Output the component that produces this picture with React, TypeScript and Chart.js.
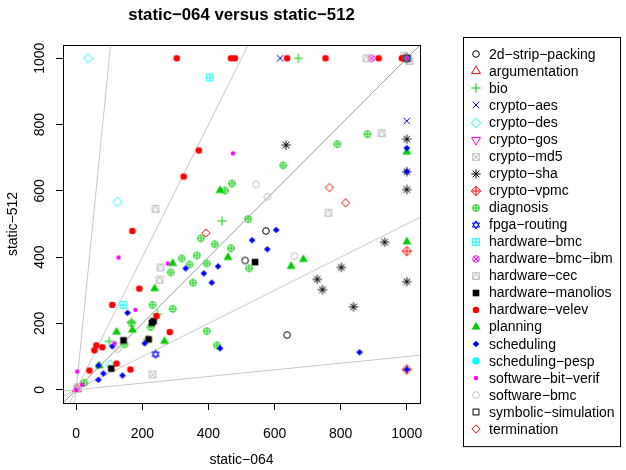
import { useEffect, useRef } from 'react';
import { Chart, registerables } from 'chart.js';

Chart.register(...registerables);

// ---------- tick labels / axes ----------
const xTicks = [0, 200, 400, 600, 800, 1000];
const yTicks = [0, 200, 400, 600, 800, 1000];
const refSlopes = [10, 2, 0.5, 0.1];
const diagSlope = 1;

// ---------- series values (static-064 = x, static-512 = y) ----------
const stripPackingX = [574, 511, 638];
const stripPackingY = [479, 390, 165];
const argumentationX = [1000, 2];
const argumentationY = [1000, 2];
const bioX = [672, 441, 100, 167, 245, 216];
const bioY = [1000, 509, 146, 204, 228, 152];
const cryptoAesX = [617, 1000];
const cryptoAesY = [1000, 811];
const cryptoDesX = [36, 125, 103];
const cryptoDesY = [1000, 567, 76];
const cryptoGosX = [1000];
const cryptoGosY = [1000];
const cryptoMd5X = [231, 1000, 2];
const cryptoMd5Y = [46, 1000, 2];
const cryptoShaX = [635, 1000, 1000, 1000, 1000, 933, 802, 729, 745, 839];
const cryptoShaY = [738, 756, 658, 604, 326, 445, 369, 333, 302, 250];
const cryptoVpmcX = [1000, 1000, 1000];
const cryptoVpmcY = [418, 61, 1000];
const diagnosisX = [881, 790, 626, 471, 520, 450, 377, 419, 468, 319, 365, 343, 395, 523, 286, 353, 231, 292, 167, 225, 395, 426, 146, 24];
const diagnosisY = [771, 741, 677, 622, 515, 601, 457, 439, 427, 396, 405, 378, 381, 366, 354, 323, 256, 244, 201, 189, 177, 134, 137, 21];
const fpgaRoutingX = [240, 1000];
const fpgaRoutingY = [107, 1000];
const hardwareBmcX = [404, 143];
const hardwareBmcY = [942, 256];
const hardwareBmcIbmX = [893, 1000];
const hardwareBmcIbmY = [1000, 1000];
const hardwareCecX = [240, 878, 924, 763, 255, 252, 992, 1008, 5];
const hardwareCecY = [546, 1000, 774, 534, 369, 332, 1008, 992, 8];
const hardwareManoliosX = [229, 234, 143, 219, 106, 541];
const hardwareManoliosY = [202, 207, 149, 152, 64, 385];
const hardwareVelevX = [304, 468, 480, 638, 754, 915, 985, 1000, 371, 325, 170, 191, 109, 243, 283, 61, 55, 79, 122, 164, 40];
const hardwareVelevY = [1000, 1000, 1000, 1000, 1000, 1000, 1000, 1000, 722, 643, 479, 305, 256, 222, 174, 134, 119, 128, 79, 61, 58];
const planningX = [435, 459, 650, 687, 1000, 292, 237, 122, 170, 267, 1000, 70];
const planningY = [601, 399, 372, 393, 446, 381, 305, 174, 180, 146, 717, 72];
const schedulingX = [605, 532, 578, 857, 1000, 429, 331, 386, 410, 155, 435, 207, 109, 67, 82, 67, 140, 1000, 1000];
const schedulingY = [482, 451, 424, 113, 61, 372, 366, 351, 323, 232, 125, 140, 131, 73, 49, 30, 43, 658, 729];
const schedulingPespX = [1000];
const schedulingPespY = [1000];
const softwareBitVerifX = [474, 128, 179, 277, 116, 3, 18, 0, 1000];
const softwareBitVerifY = [713, 399, 241, 381, 140, 55, 15, 0, 1000];
const softwareBmcX = [544, 578, 660, 125, 1000];
const softwareBmcY = [619, 582, 403, 122, 1000];
const symbolicSimulationX = [1000];
const symbolicSimulationY = [1000];
const terminationX = [766, 815, 392];
const terminationY = [610, 564, 473];

const seriesNames = [
  '2d\u2212strip\u2212packing', 'argumentation', 'bio', 'crypto\u2212aes', 'crypto\u2212des',
  'crypto\u2212gos', 'crypto\u2212md5', 'crypto\u2212sha', 'crypto\u2212vpmc', 'diagnosis',
  'fpga\u2212routing', 'hardware\u2212bmc', 'hardware\u2212bmc\u2212ibm', 'hardware\u2212cec',
  'hardware\u2212manolios', 'hardware\u2212velev', 'planning', 'scheduling', 'scheduling\u2212pesp',
  'software\u2212bit\u2212verif', 'software\u2212bmc', 'symbolic\u2212simulation', 'termination',
];
const seriesX = [stripPackingX, argumentationX, bioX, cryptoAesX, cryptoDesX, cryptoGosX, cryptoMd5X, cryptoShaX, cryptoVpmcX, diagnosisX, fpgaRoutingX, hardwareBmcX, hardwareBmcIbmX, hardwareCecX, hardwareManoliosX, hardwareVelevX, planningX, schedulingX, schedulingPespX, softwareBitVerifX, softwareBmcX, symbolicSimulationX, terminationX];
const seriesY = [stripPackingY, argumentationY, bioY, cryptoAesY, cryptoDesY, cryptoGosY, cryptoMd5Y, cryptoShaY, cryptoVpmcY, diagnosisY, fpgaRoutingY, hardwareBmcY, hardwareBmcIbmY, hardwareCecY, hardwareManoliosY, hardwareVelevY, planningY, schedulingY, schedulingPespY, softwareBitVerifY, softwareBmcY, symbolicSimulationY, terminationY];

const palette = ['#000000', '#FF0000', '#00CD00', '#0000FF', '#00FFFF', '#FF00FF', '#BEBEBE'];
const FONT = '"Liberation Sans", Arial, Helvetica, sans-serif';

function makeSymbol(pch: number, color: string): HTMLCanvasElement {
  const S = 18;
  const c = document.createElement('canvas');
  c.width = S;
  c.height = S;
  const g = c.getContext('2d') as CanvasRenderingContext2D;
  const cx = S / 2;
  const cy = S / 2;
  const R = 3.3;
  g.strokeStyle = color;
  g.fillStyle = color;
  g.lineWidth = 1;
  const circle = (r: number, fill: boolean) => {
    g.beginPath();
    g.arc(cx, cy, r, 0, Math.PI * 2);
    if (fill) g.fill(); else g.stroke();
  };
  const line = (x1: number, y1: number, x2: number, y2: number) => {
    g.beginPath();
    g.moveTo(cx + x1, cy + y1);
    g.lineTo(cx + x2, cy + y2);
    g.stroke();
  };
  const poly = (pts: number[][], fill: boolean) => {
    g.beginPath();
    pts.forEach((p, i) => (i === 0 ? g.moveTo(cx + p[0], cy + p[1]) : g.lineTo(cx + p[0], cy + p[1])));
    g.closePath();
    if (fill) g.fill(); else g.stroke();
  };
  const T0 = Math.sqrt((4 * Math.PI) / (3 * Math.sqrt(3))) * R;
  const T1 = (T0 * Math.sqrt(3)) / 2;
  const T2 = T0 / 2;
  const tri = (fill: boolean, inv: boolean) => {
    const s = inv ? -1 : 1;
    poly([[0, -T0 * s], [T1, T2 * s], [-T1, T2 * s]], fill);
  };
  const sq = (h: number) => g.strokeRect(cx - h, cy - h, 2 * h, 2 * h);
  const s2 = Math.SQRT2 * R;
  switch (pch) {
    case 1: circle(R, false); break;
    case 2: tri(false, false); break;
    case 3: line(-s2, 0, s2, 0); line(0, -s2, 0, s2); break;
    case 4: line(-R, -R, R, R); line(-R, R, R, -R); break;
    case 5: poly([[0, -s2], [s2, 0], [0, s2], [-s2, 0]], false); break;
    case 6: tri(false, true); break;
    case 7: sq(R); line(-R, -R, R, R); line(-R, R, R, -R); break;
    case 8: line(-R, -R, R, R); line(-R, R, R, -R); line(-s2, 0, s2, 0); line(0, -s2, 0, s2); break;
    case 9: poly([[0, -s2], [s2, 0], [0, s2], [-s2, 0]], false); line(-s2, 0, s2, 0); line(0, -s2, 0, s2); break;
    case 10: circle(R, false); line(-R, 0, R, 0); line(0, -R, 0, R); break;
    case 11: {
      const r = R * 1.25;
      poly([[0, -r], [r * 0.866, r * 0.5], [-r * 0.866, r * 0.5]], false);
      poly([[0, r], [r * 0.866, -r * 0.5], [-r * 0.866, -r * 0.5]], false);
      break;
    }
    case 12: sq(R); line(-R, 0, R, 0); line(0, -R, 0, R); break;
    case 13: { const d = R / Math.SQRT2; circle(R, false); line(-d, -d, d, d); line(-d, d, d, -d); break; }
    case 14: sq(R); poly([[0, -R], [R, R], [-R, R]], false); break;
    case 15: g.fillRect(cx - R, cy - R, 2 * R, 2 * R); break;
    case 16: circle(R, true); break;
    case 17: tri(true, false); break;
    case 18: poly([[0, -R], [R, 0], [0, R], [-R, 0]], true); break;
    case 19: circle(R, true); circle(R, false); break;
    case 20: circle((R * 2) / 3, true); break;
    case 21: circle(R, false); break;
    case 22: sq(R * Math.sqrt(Math.PI / 4)); break;
    case 23: { const d = R * Math.sqrt(Math.PI / 4) * Math.SQRT2; poly([[0, -d], [d, 0], [0, d], [-d, 0]], false); break; }
    default: circle(R, false);
  }
  return c;
}

export default function App() {
  const ref = useRef<HTMLCanvasElement | null>(null);

  useEffect(() => {
    const canvas = ref.current;
    if (!canvas) return;
    const symbols = seriesNames.map((_, i) => makeSymbol(i + 1, palette[i % 7]));
    const n = seriesNames.length;

    const pointSets: any[] = seriesNames.map((name, i) => ({
      type: 'scatter',
      label: name,
      data: seriesX[i].map((x, k) => ({ x, y: seriesY[i][k] })),
      pointStyle: symbols[i],
      pointRadius: 4,
      showLine: false,
      order: n - 1 - i,
    }));

    const lineSets: any[] = [...refSlopes, diagSlope].map((s) => ({
      type: 'scatter',
      label: 'ref' + s,
      data: [{ x: -100, y: -100 * s }, { x: 1100, y: 1100 * s }],
      showLine: true,
      pointRadius: 0,
      borderColor: s === diagSlope ? '#9a9a9a' : '#c8c8c8',
      borderWidth: 1,
      order: 100,
    }));

    const decor = {
      id: 'decor',
      afterDraw(chart: any) {
        const { ctx, chartArea: a, scales } = chart;
        ctx.save();
        // plot box
        ctx.strokeStyle = '#000';
        ctx.lineWidth = 1;
        ctx.strokeRect(Math.floor(a.left) + 0.5, Math.floor(a.top) + 0.5, Math.round(a.right - a.left), Math.round(a.bottom - a.top));
        // y tick labels (rotated, R style)
        ctx.fillStyle = '#000';
        ctx.font = '14px ' + FONT;
        ctx.textAlign = 'center';
        ctx.textBaseline = 'middle';
        for (const v of yTicks) {
          const py = scales.y.getPixelForValue(v);
          ctx.save();
          ctx.translate(40, py);
          ctx.rotate(-Math.PI / 2);
          ctx.fillText(String(v), 0, 0);
          ctx.restore();
        }
        // title
        ctx.font = 'bold 16.8px ' + FONT;
        ctx.fillText('static\u2212064 versus static\u2212512', (a.left + a.right) / 2, 15);
        // legend
        const lx = 463.5;
        const ly = 37.5;
        const step = 17.05;
        ctx.strokeRect(lx, ly, 157, 17 + step * (n - 1) + 17);
        ctx.font = '14px ' + FONT;
        ctx.textAlign = 'left';
        seriesNames.forEach((name, i) => {
          const y = 54.3 + i * step;
          const img = symbols[i];
          ctx.drawImage(img, 476 - img.width / 2, Math.round(y) - img.height / 2);
          ctx.fillText(name, 489, y + 0.5);
        });
        ctx.restore();
      },
    };

    const chart = new Chart(canvas, {
      type: 'scatter',
      data: { datasets: [...pointSets, ...lineSets] },
      options: {
        responsive: false,
        animation: false,
        events: [],
        devicePixelRatio: 1,
        layout: { padding: { left: 0, right: 206, top: 45, bottom: 0 } },
        plugins: { legend: { display: false }, tooltip: { enabled: false }, title: { display: false } },
        scales: {
          x: {
            type: 'linear',
            min: -40,
            max: 1040,
            afterBuildTicks: (s: any) => { s.ticks = xTicks.map((v) => ({ value: v })); },
            afterFit: (s: any) => { s.height = 67; },
            grid: { display: true, drawOnChartArea: false, drawTicks: true, tickLength: 7, color: '#000', lineWidth: 1 },
            border: { display: true, color: '#000', width: 1 },
            ticks: { color: '#000', font: { family: FONT, size: 14 }, padding: 16, maxRotation: 0, autoSkip: false, callback: (v: any) => String(v) },
            title: { display: true, text: 'static\u2212064', color: '#000', font: { family: FONT, size: 14 }, padding: { top: 0, bottom: 1.6 } },
          },
          y: {
            type: 'linear',
            min: -40,
            max: 1040,
            afterBuildTicks: (s: any) => { s.ticks = yTicks.map((v) => ({ value: v })); },
            afterFit: (s: any) => { s.width = 63; },
            grid: { display: true, drawOnChartArea: false, drawTicks: true, tickLength: 7, color: '#000', lineWidth: 1 },
            border: { display: true, color: '#000', width: 1 },
            ticks: { display: false },
            title: { display: true, text: 'static\u2212512', color: '#000', font: { family: FONT, size: 14 }, padding: { top: 4.6, bottom: 0 } },
          },
        },
      } as any,
      plugins: [decor],
    });
    return () => chart.destroy();
  }, []);

  return (
    <div style={{ position: 'fixed', left: 0, top: 0, width: 626, height: 470, background: '#fff' }}>
      <canvas ref={ref} width={626} height={470} />
    </div>
  );
}
